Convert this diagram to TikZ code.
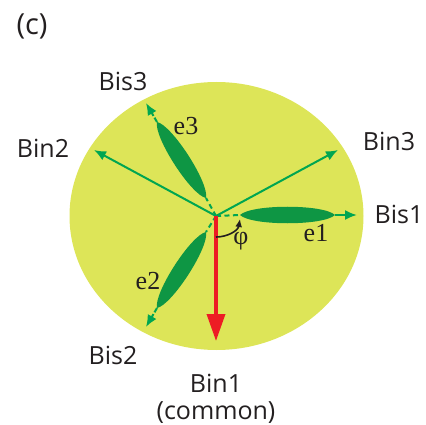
\documentclass[tikz,border=0pt]{standalone}
\usepackage{fontspec}
\setmainfont{Open Sans}
\newfontfamily\serifface{Liberation Serif}
\usetikzlibrary{arrows.meta,calc}
\definecolor{discfill}{RGB}{221,229,88}
\definecolor{axisgreen}{RGB}{0,166,81}
\definecolor{leafgreen}{RGB}{14,150,68}
\definecolor{redaxis}{RGB}{237,28,36}
\definecolor{labelgray}{RGB}{35,31,32}
\tikzset{
  lab/.style={font=\fontsize{25}{27}\selectfont, text=labelgray, inner sep=0pt, align=center},
  elab/.style={font=\serifface\fontsize{26}{26}\selectfont, text=labelgray, inner sep=0pt},
  solidaxis/.style={draw=axisgreen, line width=2pt, -{Latex[length=12pt,width=10pt]}},
  dashaxis/.style={draw=axisgreen, line width=2pt, dash pattern=on 5pt off 3.5pt},
  tipaxis/.style={draw=axisgreen, line width=2pt, -{Latex[length=12pt,width=10pt]}},
  leaf/.style={fill=leafgreen, draw=none},
}
\begin{document}
\begin{tikzpicture}[x=1pt,y=-1pt]
\useasboundingbox (0,0) rectangle (426,425);
\fill[discfill] (216.5,216) ellipse [x radius=147, y radius=134];
\coordinate (O) at (216,216);
\coordinate (bis1) at (357,215);
\coordinate (bin3) at (338,150);
\coordinate (bis3) at (146,103);
\coordinate (bin2) at (94,150);
\coordinate (bis2) at (146,327);
\coordinate (bin1) at (216,341);
% leaves
\coordinate (e1a) at (240,215); \coordinate (e1b) at (335,215);
\coordinate (e3a) at (206,198); \coordinate (e3b) at (157,122);
\coordinate (e2a) at (206,232); \coordinate (e2b) at (157,308);
\foreach \a/\b in {e1a/e1b,e3a/e3b,e2a/e2b}{
  \fill[leaf] (\a) .. controls ($(\a)!0.12!(\b)!11pt!90:(\b)$) and ($(\a)!0.88!(\b)!11pt!90:(\b)$) .. (\b)
    .. controls ($(\b)!0.12!(\a)!11pt!90:(\a)$) and ($(\b)!0.88!(\a)!11pt!90:(\a)$) .. (\a) -- cycle;
}
% dashed parts
\draw[dashaxis] (O) -- (e1a);
\draw[dashaxis] (O) -- (e3a);
\draw[dashaxis] (O) -- (e2a);
\draw[tipaxis] (e1b) -- (bis1);
\draw[tipaxis, dash pattern=on 5pt off 2pt] (e3b) -- (bis3);
\draw[tipaxis, dash pattern=on 5pt off 2pt] (e2b) -- (bis2);
% solid axes
\draw[solidaxis] (O) -- (bin3);
\draw[solidaxis] (O) -- (bin2);
\draw[draw=redaxis, line width=3.6pt, -{Triangle[length=27pt,width=18pt]}] (O) -- (bin1);
% phi arc
\coordinate (p1) at (216,237); \coordinate (p2) at (240,219);
\draw[labelgray, line width=1.6pt, -{Latex[length=8pt,width=7pt]}] (p1) .. controls (227,237) and (238,231) .. (p2);
% labels
\node[lab, font=\fontsize{29}{30}\selectfont] (c) at (32,26) {(c)};
\node[lab] (t1) at (123,81) {Bis3};
\node[lab] (t2) at (43,148) {Bin2};
\node[lab] (t3) at (389,141) {Bin3};
\node[lab] (t4) at (399,214) {Bis1};
\node[lab] (t5) at (113,355) {Bis2};
\node[lab] (t6) at (216,399) {Bin1\\(common)};
\node[elab] (l1) at (316,233) {e1};
\node[elab] (l3) at (186,126) {e3};
\node[elab] (l2) at (148,281) {e2};
\node[elab] (l4) at (241,241) {φ};
\end{tikzpicture}
\end{document}
